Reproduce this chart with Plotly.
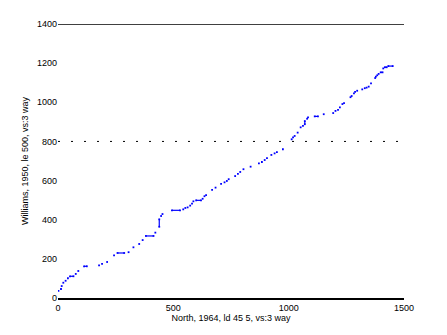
import plotly.graph_objects as go

# quantile points (x = North 1964, y = Williams 1950)
x_vals = [2, 13, 16, 23, 33, 43, 52, 67, 77, 88, 113, 125, 178, 191, 213, 243, 258, 287, 306, 327,
          352, 367, 381, 414, 422, 439, 439, 447, 453, 494, 529, 543, 552, 562, 573, 581, 587, 599, 620, 627,
          635, 642, 668, 683, 707, 722, 732, 740, 768, 780, 790, 804, 835, 871, 884, 896, 906, 925, 939, 949,
          975, 1013, 1019, 1026, 1039, 1052, 1062, 1070, 1070, 1080, 1084, 1113, 1127, 1152, 1193, 1203, 1214, 1222, 1233, 1240,
          1268, 1273, 1283, 1288, 1297, 1319, 1330, 1338, 1347, 1357, 1375, 1378, 1384, 1390, 1399, 1407, 1410, 1417, 1425, 1432, 1451]
y_vals = [36, 46, 61, 78, 88, 101, 111, 111, 123, 138, 162, 162, 167, 174, 184, 218, 230, 230, 234, 259,
          276, 296, 317, 317, 334, 364, 402, 419, 429, 448, 448, 453, 460, 463, 472, 482, 494, 499, 499, 507,
          520, 526, 552, 564, 583, 591, 598, 607, 623, 634, 644, 658, 671, 688, 695, 705, 715, 731, 739, 745,
          760, 811, 821, 828, 845, 872, 879, 888, 904, 916, 923, 928, 928, 939, 945, 956, 961, 974, 991, 996,
          1026, 1032, 1046, 1053, 1059, 1066, 1072, 1075, 1080, 1097, 1124, 1131, 1138, 1145, 1153, 1153, 1173, 1179, 1179, 1185, 1185]

# flat runs (tied values)
step_x0 = [52, 113, 258, 381, 494, 599, 1113, 1399, 1417, 1432]
step_x1 = [67, 125, 287, 414, 529, 620, 1127, 1407, 1425, 1451]
step_y = [111, 162, 230, 317, 448, 499, 928, 1153, 1179, 1185]
vstep_x = [439, 1070]
vstep_y0 = [364, 888]
vstep_y1 = [402, 904]

x_ticks = [0, 500, 1000, 1500]
y_ticks = [0, 200, 400, 600, 800, 1000, 1200, 1400]
ref_y = 800
top_y = 1400

sx, sy = [], []
for a, b, c in zip(step_x0, step_x1, step_y):
    sx += [a, b, None]
    sy += [c, c, None]
for a, b, c in zip(vstep_x, vstep_y0, vstep_y1):
    sx += [a, a, None]
    sy += [b, c, None]

fig = go.Figure()
fig.add_trace(go.Scatter(x=sx, y=sy, mode="lines", line=dict(color="#0000ff", width=1.2),
                         hoverinfo="skip", showlegend=False))
fig.add_trace(go.Scatter(x=x_vals, y=y_vals, mode="markers",
                         marker=dict(color="#0000ff", size=1.8, symbol="square", line=dict(width=0)),
                         showlegend=False))

fig.add_shape(type="line", xref="paper", yref="y", x0=0, x1=1, y0=top_y, y1=top_y,
              line=dict(color="black", width=1.3))
fig.add_shape(type="line", xref="paper", yref="y", x0=0, x1=1, y0=ref_y, y1=ref_y,
              line=dict(color="black", width=1, dash="2px,11px"))

font = dict(family="Liberation Sans, Arial, sans-serif", size=9, color="black")
fig.update_layout(
    width=447, height=335,
    margin=dict(l=58, r=43, t=24, b=37),
    paper_bgcolor="white", plot_bgcolor="white",
    font=font,
    xaxis=dict(range=[0, 1500], tickvals=x_ticks, showgrid=False, zeroline=False,
               showline=True, linecolor="black", linewidth=2, ticks="", ticklen=0,
               title=dict(text="North, 1964, ld 45 5, vs:3 way", font=font, standoff=0)),
    yaxis=dict(range=[0, 1400], tickvals=y_ticks, showgrid=False, zeroline=False,
               showline=False, ticks="", ticklen=0,
               title=dict(text="Williams, 1950, le 500, vs:3 way", font=font, standoff=6)),
)
fig.write_html("out.html")
